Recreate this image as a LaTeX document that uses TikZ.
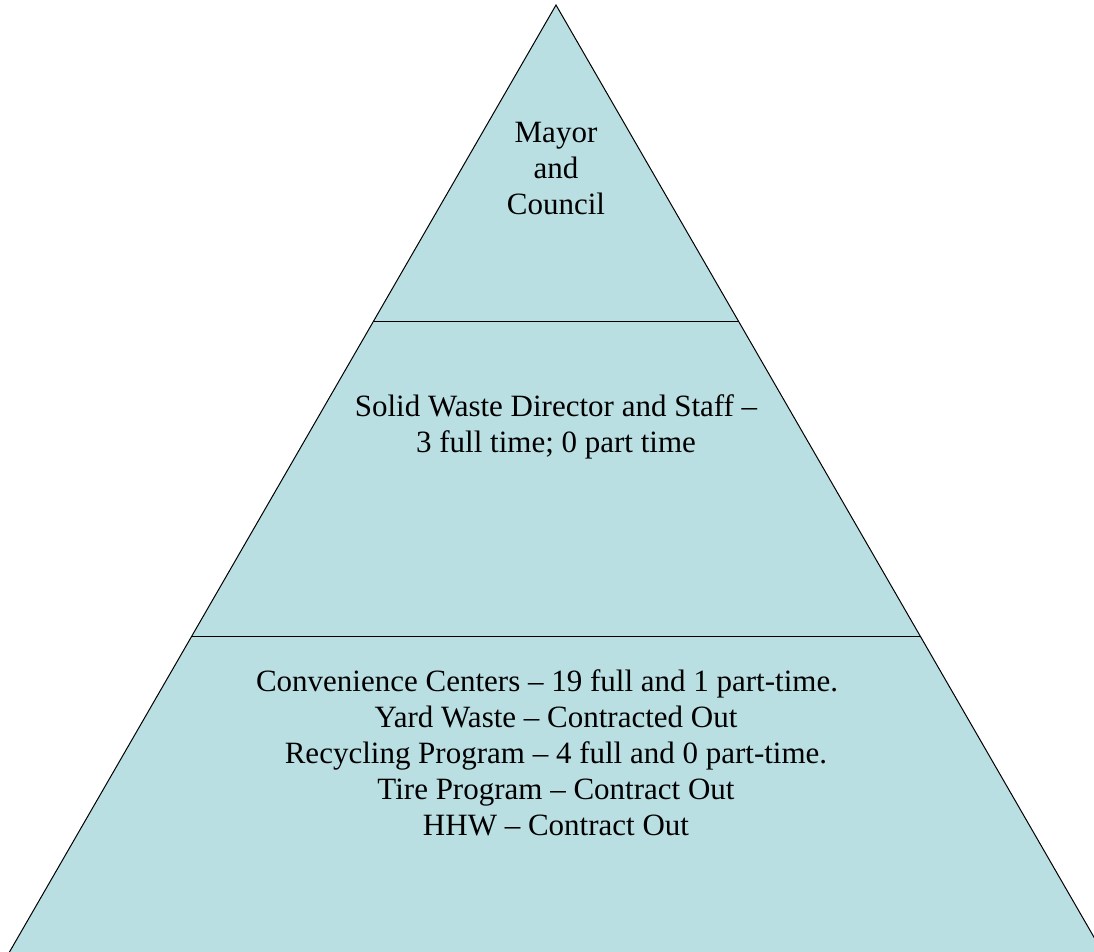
\documentclass[tikz,border=0pt]{standalone}
\usepackage{fontspec}
\setmainfont{Liberation Serif}
\definecolor{pyrfill}{RGB}{186,223,227}
\begin{document}
\begin{tikzpicture}[x=1pt,y=-1pt,
  tier/.style={align=center,font=\fontsize{31}{36}\selectfont,inner sep=0pt},
  edge/.style={draw=black,line width=1pt}]
\useasboundingbox (0,0) rectangle (1094,951);
\begin{scope}
\clip (0,0) rectangle (1094,951);
\coordinate (apex) at (556,5);
\coordinate (bl) at (6,958);
\coordinate (br) at (1106,958);
\fill[pyrfill] (apex) -- (bl) -- (br) -- cycle;
\draw[edge] (bl) -- (apex) -- (br);
\draw[edge] (374,321) -- (738,321);
\draw[edge] (191,636) -- (920,636);
\end{scope}
\node[tier] (top) at (556,168) {Mayor\\and\\Council};
\node[tier] (mid) at (556,427) {Solid Waste Director and Staff –\\3 full time; 0 part time};
\node[tier] (bot) at (556,753) {Convenience Centers – 19 full and 1 part-time.\hspace*{18pt}\\Yard Waste – Contracted Out\\Recycling Program – 4 full and 0 part-time.\\Tire Program – Contract Out\\HHW – Contract Out};
\end{tikzpicture}
\end{document}
